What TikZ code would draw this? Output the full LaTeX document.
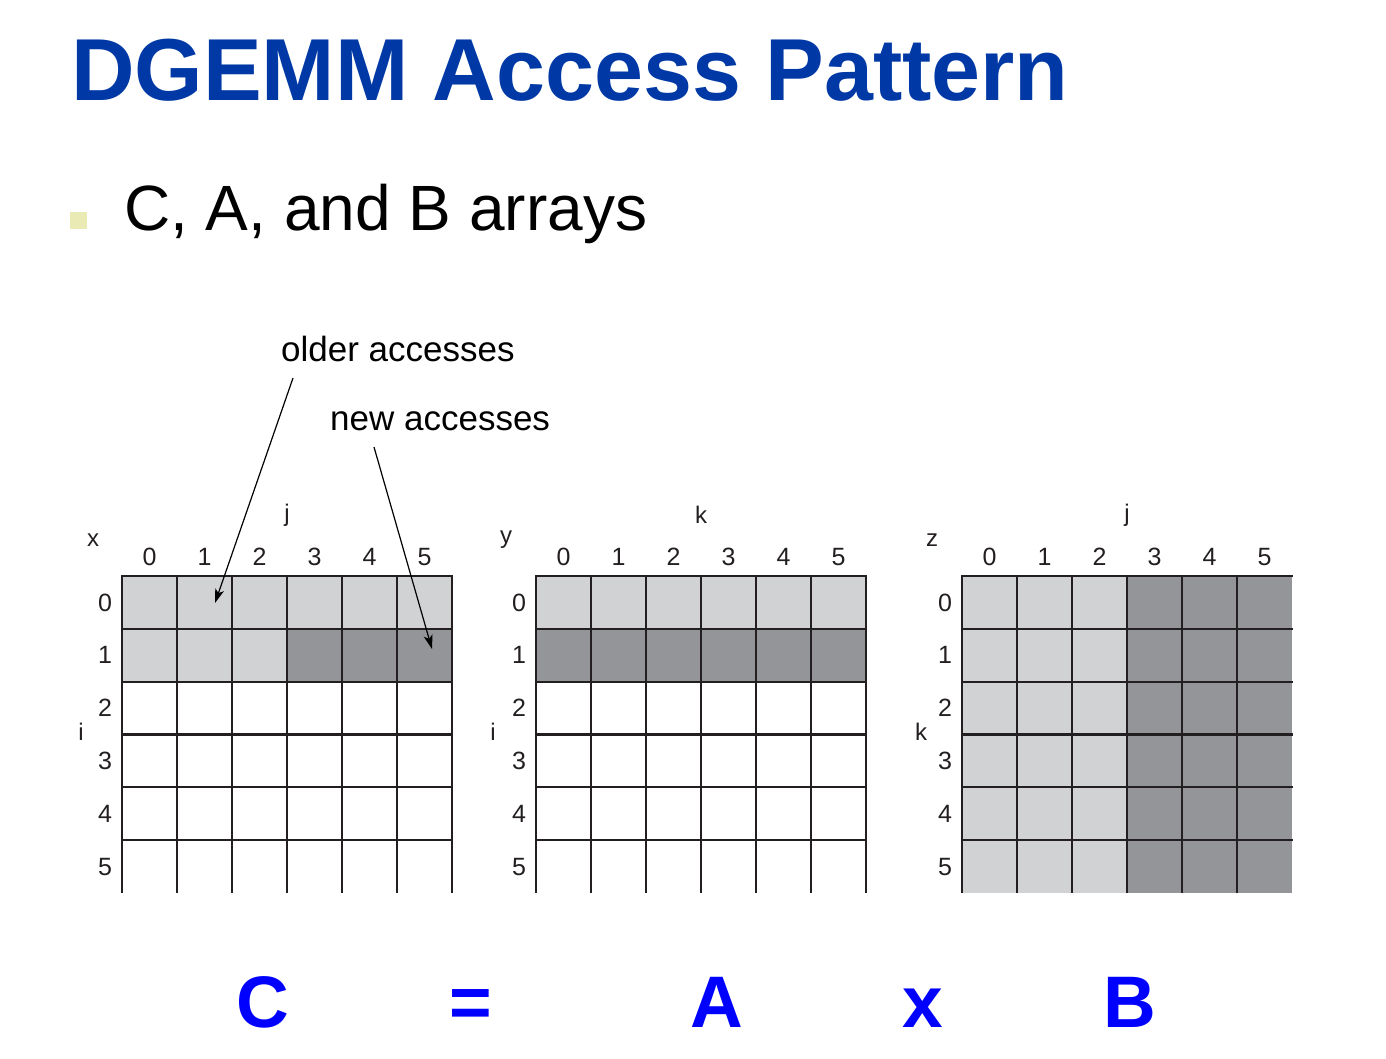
\documentclass[tikz,border=0pt]{standalone}
\usepackage{fontspec}
\setmainfont{Liberation Sans}
\usetikzlibrary{arrows.meta}
\definecolor{titleblue}{RGB}{0,57,166}
\definecolor{eqblue}{RGB}{0,0,255}
\definecolor{bulletc}{RGB}{234,234,180}
\definecolor{lightc}{RGB}{209,210,212}
\definecolor{darkc}{RGB}{147,149,152}
\definecolor{inkc}{RGB}{35,31,32}
\tikzset{
  gridline/.style={draw=inkc, line width=2.2pt},
  idx/.style={inner sep=0pt, text=inkc, font=\fontsize{25}{25}\selectfont},
  axis/.style={inner sep=0pt, text=inkc, font=\fontsize{24}{24}\selectfont},
  note/.style={inner sep=0pt, anchor=base west, font=\fontsize{35}{35}\selectfont},
  eq/.style={inner sep=0pt, anchor=base, text=eqblue, font=\fontsize{73}{73}\selectfont\bfseries},
  pointer/.style={draw=black, line width=1.2pt, -{Stealth[length=14pt,width=9pt,inset=3.5pt]}}
}
\begin{document}
\begin{tikzpicture}[x=1pt,y=-1pt]
\useasboundingbox[fill=white] (0,0) rectangle (1386,1058);

% title and bullet
\node[inner sep=0pt, anchor=base west, text=titleblue, font=\fontsize{88}{88}\selectfont\bfseries] (title) at (71,100) {DGEMM Access Pattern};
\fill[bulletc] (70,212) rectangle (87,229);
\node[inner sep=0pt, anchor=base west, font=\fontsize{64}{64}\selectfont] (sub) at (124,230) {C, A, and B arrays};

% cell fills
% C
\fill[lightc] (122,576) rectangle (452,629.83);
\fill[lightc] (122,629.83) rectangle (287,682.67);
\fill[darkc] (287,629.83) rectangle (452,682.67);
% A
\fill[lightc] (536,576) rectangle (866,629.83);
\fill[darkc] (536,629.83) rectangle (866,682.67);
% B
\fill[lightc] (962,576) rectangle (1127,893);
\fill[darkc] (1127,576) rectangle (1292,893);

% grid lines
\foreach \L/\n in {122/6,536/6,962/5}{
  \foreach \c in {0,...,\n}
    \draw[gridline] (\L+\c*55,575) -- (\L+\c*55,893);
  \foreach \r in {0,...,5}
    \draw[gridline] (\L-1,576+\r*52.83) -- (\L+331,576+\r*52.83);
}

% labels
\foreach \g/\L/\a/\b/\c/\ax/\cx in {1/122/x/j/i/93/81, 2/536/y/k/i/506/493, 3/962/z/j/k/932/921}{
  \node[axis] (g\g name) at (\ax,540) {\a};
  \node[axis] (g\g col) at (\L+165,515) {\b};
  \node[axis] (g\g row) at (\cx,732) {\c};
  \foreach \i in {0,...,5}{
    \node[idx] (g\g c\i) at (\L+27.5+\i*55,557) {\i};
    \node[idx] (g\g r\i) at (\L-17,602.4+\i*52.83) {\i};
  }
}

% pointers
\node[note] (older) at (281,361) {older accesses};
\node[note] (newer) at (330,430) {new accesses};
\coordinate (olds) at (293,378);
\coordinate (oldt) at (215,603);
\coordinate (news) at (374,447);
\coordinate (newt) at (432,649);
\draw[pointer] (olds) -- (oldt);
\draw[pointer] (news) -- (newt);

% equation
\node[eq] (eC) at (263,1027) {C};
\node[eq] (eEq) at (471,1027) {=};
\node[eq] (eA) at (717,1027) {A};
\node[eq] (eX) at (923,1027) {x};
\node[eq] (eB) at (1130,1027) {B};
\end{tikzpicture}
\end{document}
